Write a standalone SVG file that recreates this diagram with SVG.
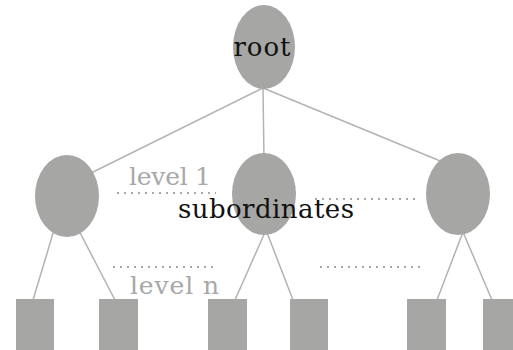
<svg xmlns="http://www.w3.org/2000/svg" width="513" height="350" viewBox="0 0 513 350">
<style>
.node{fill:#a6a6a4}
.edge{stroke:#b3b3b3;stroke-width:1.5;fill:none}
.dots{stroke:#a8a8a8;stroke-width:2;stroke-dasharray:2 5;fill:none}
.lbl{font-family:"DejaVu Serif",serif;fill:#111}
.lvl{font-family:"DejaVu Serif",serif;fill:#a8a8a8}
</style>
<rect width="513" height="350" fill="#fff"/>
<g id="connectors">
<line class="edge" x1="263" y1="88" x2="85" y2="176"/>
<line class="edge" x1="263" y1="88" x2="264" y2="160"/>
<line class="edge" x1="263" y1="88" x2="450" y2="165"/>
<line class="edge" x1="63" y1="200" x2="33" y2="300"/>
<line class="edge" x1="63" y1="200" x2="115" y2="300"/>
<line class="edge" x1="266" y1="230" x2="235" y2="300"/>
<line class="edge" x1="266" y1="230" x2="293" y2="300"/>
<line class="edge" x1="463" y1="232" x2="437" y2="300"/>
<line class="edge" x1="463" y1="232" x2="492" y2="300"/>
</g>
<g id="root"><ellipse class="node" cx="264" cy="47" rx="31" ry="42"/><text class="lbl" x="262" y="56" font-size="26" text-anchor="middle" textLength="57">root</text></g>
<g id="sub-left"><ellipse class="node" cx="67" cy="196" rx="32" ry="41"/></g>
<g id="sub-mid"><ellipse class="node" cx="264" cy="194" rx="32" ry="41"/></g>
<g id="sub-right"><ellipse class="node" cx="458" cy="194" rx="32" ry="41"/></g>
<g id="leaf1"><rect class="node" x="16" y="299" width="38" height="51"/></g>
<g id="leaf2"><rect class="node" x="99" y="299" width="39" height="51"/></g>
<g id="leaf3"><rect class="node" x="208" y="299" width="39" height="51"/></g>
<g id="leaf4"><rect class="node" x="290" y="299" width="38" height="51"/></g>
<g id="leaf5"><rect class="node" x="407" y="299" width="39" height="51"/></g>
<g id="leaf6"><rect class="node" x="483" y="299" width="38" height="51"/></g>
<g id="guides">
<line class="dots" x1="117" y1="193" x2="216" y2="193"/>
<line class="dots" x1="315" y1="199" x2="416" y2="199"/>
<line class="dots" x1="113" y1="267" x2="214" y2="267"/>
<line class="dots" x1="320" y1="267" x2="421" y2="267"/>
</g>
<text class="lvl" x="129" y="185" font-size="25" textLength="82">level 1</text>
<text class="lvl" x="130" y="294" font-size="25" textLength="89">level n</text>
<text class="lbl" x="178" y="218" font-size="26" textLength="176">subordinates</text>
</svg>
